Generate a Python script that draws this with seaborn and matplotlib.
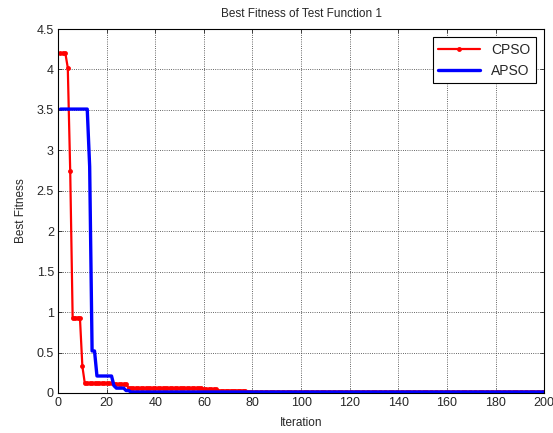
import numpy as np
import matplotlib
matplotlib.use("Agg")
import matplotlib.pyplot as plt
import seaborn as sns

# step-wise best fitness: (value, number of iterations)
cpso_levels = [4.2, 4.02, 2.74, 0.93, 0.33, 0.12, 0.11, 0.06, 0.045, 0.03, 0.008]
cpso_runs = [3, 1, 1, 4, 1, 12, 6, 31, 6, 12, 123]
apso_levels = [3.51, 2.8, 0.52, 0.21, 0.09, 0.06, 0.03, 0.012]
apso_runs = [12, 1, 2, 7, 1, 4, 2, 171]

x_ticks = [0, 20, 40, 60, 80, 100, 120, 140, 160, 180, 200]
y_ticks = [0, 0.5, 1, 1.5, 2, 2.5, 3, 3.5, 4, 4.5]
y_tick_labels = ["0", "0.5", "1", "1.5", "2", "2.5", "3", "3.5", "4", "4.5"]

cpso = np.repeat(cpso_levels, cpso_runs)
apso = np.repeat(apso_levels, apso_runs)
iterations = np.arange(1, len(cpso) + 1)

sns.set_style("ticks")
plt.rcParams["font.family"] = ["Liberation Sans", "DejaVu Sans"]

fig = plt.figure(figsize=(5.53, 4.33), dpi=100)
ax = fig.add_axes([0.105, 0.0924, 0.879, 0.8406])

sns.lineplot(x=iterations, y=cpso, ax=ax, color="red", linewidth=1.6,
             marker=".", markersize=7, markeredgewidth=0, label="CPSO")
sns.lineplot(x=iterations, y=apso, ax=ax, color="blue", linewidth=2.4,
             label="APSO")

ax.set_xlim(0, 200)
ax.set_ylim(0, 4.5)
ax.set_xticks(x_ticks)
ax.set_yticks(y_ticks)
ax.set_yticklabels(y_tick_labels)
ax.tick_params(direction="in", top=True, right=True, labelsize=9, length=3,
               width=0.6, pad=3)
ax.grid(True, color="#333333", linestyle=":", linewidth=0.6)
for s in ax.spines.values():
    s.set_color("black")
    s.set_linewidth(0.8)

ax.set_title("Best Fitness of Test Function 1", fontsize=8.5, pad=8.5)
ax.set_xlabel("Iteration", fontsize=8.5, labelpad=6)
ax.set_ylabel("Best Fitness", fontsize=8.5, labelpad=7)

leg = ax.legend(loc="upper right", fontsize=10, fancybox=False, framealpha=1,
                edgecolor="black", handlelength=3, borderaxespad=0.6)
leg.get_frame().set_linewidth(0.8)

fig.savefig("out.png", dpi=100)
